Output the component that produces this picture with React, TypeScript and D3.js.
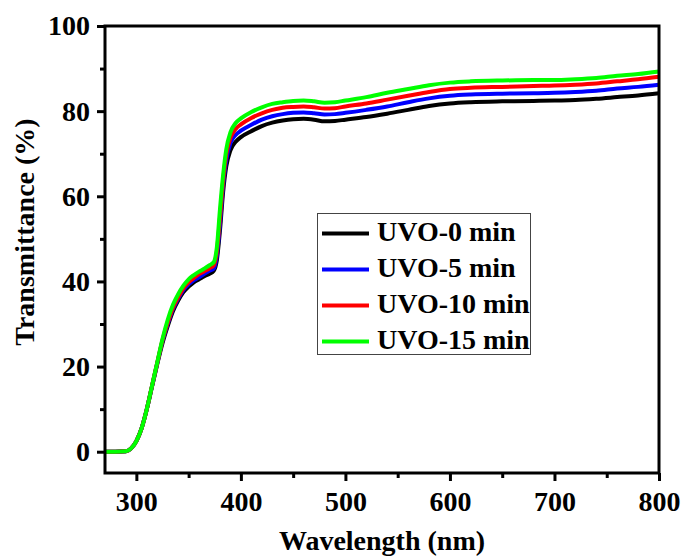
import React, { useEffect, useRef } from "react";
import * as d3 from "d3";

// wavelength grid (nm)
const wavelengths = [270, 280, 290, 295, 300, 305, 310, 315, 320, 325, 330, 335, 340, 345, 350, 355, 360, 365, 370, 374, 377, 380, 383, 386, 390, 395, 400, 410, 420, 430, 440, 450, 460, 470, 480, 490, 500, 520, 540, 560, 580, 600, 620, 650, 680, 700, 720, 740, 760, 780, 800];

// transmittance (%) per sample
const uvo0 = [0, 0, 0.1, 0.8, 2.5, 5.5, 10, 15.3, 20.6, 25.5, 29.5, 33, 35.5, 37.5, 38.8, 39.8, 40.5, 41.2, 41.8, 42.5, 45, 52, 61, 67, 70.8, 72.8, 73.9, 75.3, 76.5, 77.3, 77.8, 78.1, 78.2, 78, 77.6, 77.7, 78, 78.6, 79.4, 80.3, 81.2, 81.8, 82.1, 82.3, 82.4, 82.5, 82.6, 82.9, 83.3, 83.7, 84.2];
const uvo5 = [0, 0, 0.1, 0.8, 2.5, 5.5, 10, 15.4, 20.8, 26, 30, 33.5, 36, 38, 39.3, 40.3, 41, 41.8, 42.5, 43, 46, 53.5, 62.5, 68.5, 72.5, 74.4, 75.4, 76.8, 78, 78.8, 79.3, 79.6, 79.7, 79.5, 79.2, 79.3, 79.6, 80.3, 81.1, 82.1, 83, 83.6, 83.9, 84.1, 84.2, 84.3, 84.5, 84.8, 85.3, 85.7, 86.2];
const uvo10 = [0, 0, 0.1, 0.8, 2.5, 5.5, 10, 15.5, 20.9, 26.2, 30.3, 33.8, 36.3, 38.4, 39.8, 40.8, 41.7, 42.4, 43.1, 43.8, 47, 55, 63.5, 69.8, 73.7, 75.8, 76.9, 78.4, 79.5, 80.3, 80.8, 81, 81.1, 80.9, 80.6, 80.7, 81.1, 81.8, 82.7, 83.6, 84.5, 85.2, 85.5, 85.7, 85.9, 86, 86.2, 86.5, 87, 87.5, 88.1];
const uvo15 = [0, 0, 0.1, 0.8, 2.5, 5.5, 10, 15.5, 21, 26.5, 31, 34.5, 37, 39, 40.5, 41.5, 42.3, 43, 43.8, 44.5, 48, 57, 65, 71, 75, 77.2, 78.3, 79.8, 80.9, 81.7, 82.1, 82.4, 82.5, 82.3, 82, 82.1, 82.5, 83.3, 84.3, 85.2, 86.1, 86.7, 87, 87.2, 87.3, 87.3, 87.5, 87.8, 88.3, 88.7, 89.3];

const seriesNames = ["UVO-0 min", "UVO-5 min", "UVO-10 min", "UVO-15 min"];
const seriesColors = ["#000000", "#0000ff", "#ff0000", "#00ff00"];
const seriesValues = [uvo0, uvo5, uvo10, uvo15];

const xTicks = [300, 400, 500, 600, 700, 800];
const xMinor = [350, 450, 550, 650, 750];
const yTicks = [0, 20, 40, 60, 80, 100];
const yMinor = [10, 30, 50, 70, 90];

const FONT = "'Liberation Serif', 'Times New Roman', serif";

export default function App() {
    const ref = useRef<SVGSVGElement>(null);

    useEffect(() => {
        document.body.style.margin = "0";
        const svg = d3.select(ref.current);
        svg.selectAll("*").remove();

        const left = 105, right = 659, top = 26, bottom = 473;
        const x = d3.scaleLinear().domain([270, 800]).range([left, right]);
        const y = d3.scaleLinear().domain([-5, 100]).range([bottom, top]);

        // curves
        const line = d3.line<number>()
            .x((d, i) => x(wavelengths[i]))
            .y(d => y(d))
            .curve(d3.curveMonotoneX);

        svg.append("g").selectAll("path")
            .data(seriesValues)
            .join("path")
            .attr("d", d => line(d))
            .attr("fill", "none")
            .attr("stroke", (d, i) => seriesColors[i])
            .attr("stroke-width", 4)
            .attr("stroke-linejoin", "round");

        // X axis
        const xAxis = svg.append("g").attr("transform", `translate(0, ${bottom})`)
            .call(d3.axisBottom(x).tickValues(xTicks).tickSize(8).tickPadding(10).tickSizeOuter(0));
        svg.append("g").attr("transform", `translate(0, ${bottom})`)
            .call(d3.axisBottom(x).tickValues(xMinor).tickSize(5).tickFormat(() => "").tickSizeOuter(0))
            .call(g => g.select(".domain").remove())
            .selectAll("line").attr("stroke-width", 3);
        xAxis.select(".domain").remove();
        xAxis.selectAll("line").attr("stroke-width", 3);
        xAxis.selectAll("text")
            .attr("font-family", FONT).attr("font-weight", "bold").attr("font-size", 28).attr("fill", "#000");

        // Y axis
        const yAxis = svg.append("g").attr("transform", `translate(${left}, 0)`)
            .call(d3.axisLeft(y).tickValues(yTicks).tickSize(8).tickPadding(7).tickSizeOuter(0));
        svg.append("g").attr("transform", `translate(${left}, 0)`)
            .call(d3.axisLeft(y).tickValues(yMinor).tickSize(5).tickFormat(() => "").tickSizeOuter(0))
            .call(g => g.select(".domain").remove())
            .selectAll("line").attr("stroke-width", 3);
        yAxis.select(".domain").remove();
        yAxis.selectAll("line").attr("stroke-width", 3);
        yAxis.selectAll("text")
            .attr("font-family", FONT).attr("font-weight", "bold").attr("font-size", 28).attr("fill", "#000");

        // frame
        svg.append("rect")
            .attr("x", left).attr("y", top)
            .attr("width", right - left).attr("height", bottom - top)
            .attr("fill", "none").attr("stroke", "#000").attr("stroke-width", 3);

        // axis titles
        svg.append("text")
            .attr("x", (left + right) / 2).attr("y", 550)
            .attr("text-anchor", "middle")
            .attr("font-family", FONT).attr("font-weight", "bold").attr("font-size", 28)
            .text("Wavelength (nm)");

        svg.append("text")
            .attr("transform", `translate(34, 232) rotate(-90)`)
            .attr("text-anchor", "middle")
            .attr("font-family", FONT).attr("font-weight", "bold").attr("font-size", 28)
            .text("Transmittance (%)");

        // legend
        const legend = svg.append("g");
        legend.append("rect")
            .attr("x", 317.5).attr("y", 213.5).attr("width", 213).attr("height", 141)
            .attr("fill", "#fff").attr("stroke", "#444").attr("stroke-width", 1);
        const rows = legend.selectAll("g.row").data(seriesNames).join("g").attr("class", "row")
            .attr("transform", (d, i) => `translate(0, ${233.5 + i * 36})`);
        rows.append("line")
            .attr("x1", 322).attr("x2", 369).attr("y1", 0).attr("y2", 0)
            .attr("stroke", (d, i) => seriesColors[i]).attr("stroke-width", 4);
        rows.append("text")
            .attr("x", 377).attr("y", 7.5)
            .attr("font-family", FONT).attr("font-weight", "bold").attr("font-size", 28)
            .text(d => d);
    }, []);

    return <svg ref={ref} width={683} height={556} style={{ display: "block" }} />;
}
